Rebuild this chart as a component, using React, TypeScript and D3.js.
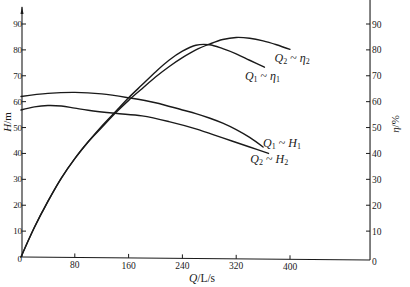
import React from "react";
import * as d3 from "d3";

const W = 410;
const H = 287;

const qTicks = [80, 160, 240, 320, 400];
const leftTicks = [0, 10, 20, 30, 40, 50, 60, 70, 80, 90];
const rightTicks = [0, 10, 20, 30, 40, 50, 60, 70, 80, 90];

const qH1 = [0, 40, 80, 120, 160, 200, 240, 260, 280, 300, 320, 340, 360];
const h1 = [62, 63.2, 63.6, 63, 61.5, 59.6, 56.8, 55.4, 53.7, 51.7, 49.2, 46.2, 42.5];

const qH2 = [0, 20, 40, 60, 80, 100, 140, 180, 220, 260, 300, 340, 368];
const h2 = [56.8, 58, 58.5, 58.3, 57.5, 56.7, 55.5, 54.5, 52.3, 49.5, 46, 42.5, 40];

const qE1 = [0, 20, 40, 60, 80, 100, 120, 140, 160, 180, 200, 220, 240, 260, 280, 300, 320, 340, 362];
const e1 = [0, 11.5, 21.5, 30.5, 38, 44.5, 50.5, 56, 61.5, 66.5, 71.5, 76, 79.5, 81.8, 82, 80.5, 78.5, 76, 73.3];

const qE2 = [0, 20, 40, 60, 80, 100, 120, 140, 160, 180, 200, 220, 240, 260, 280, 300, 320, 340, 360, 380, 400];
const e2 = [0, 11.5, 21.5, 30.5, 38, 44.5, 50, 55.5, 60.5, 65, 69.5, 73.5, 77, 80, 82.2, 84, 84.8, 84.5, 83.5, 82, 80.2];

// label anchors (Q, value) in data units
const labels = [
  { q: 377, v: 75.5, a: "Q", s1: "2", b: "η", s2: "2" },
  { q: 333, v: 68.5, a: "Q", s1: "1", b: "η", s2: "1" },
  { q: 360, v: 42.5, a: "Q", s1: "1", b: "H", s2: "1" },
  { q: 341, v: 36.3, a: "Q", s1: "2", b: "H", s2: "2" },
];

const x = d3.scaleLinear().domain([0, 400]).range([21, 290]);
const y = d3.scaleLinear().domain([0, 90]).range([257, 24]);
const qMax = 519;

const font = "'Liberation Serif', 'DejaVu Serif', serif";
const ink = "#1a1a1a";

function path(qs: number[], vs: number[]) {
  const line = d3
    .line<number>()
    .x((_, i) => x(qs[i]))
    .y((d) => y(d))
    .curve(d3.curveCatmullRom.alpha(0.5));
  return line(vs) || "";
}

export default function App() {
  const x0 = x(0) + 1;
  const xr = x(qMax);
  return (
    <svg
      width={W}
      height={H}
      style={{ position: "absolute", left: 0, top: 0, background: "#fff" }}
      fontFamily={font}
    >
      <rect width={W} height={H} fill="#fff" />
      {/* axes */}
      <line x1={x0} x2={x0} y1={y(0)} y2={7} stroke={ink} strokeWidth={1.1} />
      <path d={`M${x0 - 1.5},14 L${x0},6 L${x0 + 1.5},14 Z`} fill={ink} />
      <line x1={xr} x2={xr} y1={y(0) + 3} y2={0} stroke={ink} strokeWidth={1.1} />
      <line x1={x0} x2={xr} y1={y(0)} y2={y(0) + 3} stroke={ink} strokeWidth={1.1} />

      {leftTicks.map((t) => (
        <g key={"l" + t}>
          {t > 0 && (
            <line x1={x0} x2={x0 + 4} y1={y(t)} y2={y(t)} stroke={ink} strokeWidth={1} />
          )}
          <text
            x={x0 - 0.5}
            y={y(t) + 3 + (t === 0 ? 2 : 0)}
            fontSize={9}
            letterSpacing={-0.4}
            textAnchor="end"
            fill={ink}
          >
            {t}
          </text>
        </g>
      ))}

      {rightTicks.map((t) => (
        <g key={"r" + t}>
          {t > 0 && (
            <line x1={xr - 4} x2={xr} y1={y(t)} y2={y(t)} stroke={ink} strokeWidth={1} />
          )}
          <text
            x={xr + 2}
            y={y(t) + 3.5 + (t === 0 ? 4 : 0)}
            fontSize={9.5}
            textAnchor="start"
            fill={ink}
          >
            {t}
          </text>
        </g>
      ))}

      {qTicks.map((t) => (
        <g key={"q" + t}>
          <line
            x1={x(t)}
            x2={x(t)}
            y1={y(0) - 4 + (t / qMax) * 3}
            y2={y(0) + (t / qMax) * 3}
            stroke={ink}
            strokeWidth={1}
          />
          <text x={x(t)} y={y(0) + 11 + (t / qMax) * 2} fontSize={9.5} textAnchor="middle" fill={ink}>
            {t}
          </text>
        </g>
      ))}

      {/* axis titles */}
      <text
        transform={`translate(11,122) rotate(-90)`}
        fontSize={11}
        textAnchor="middle"
        fill={ink}
      >
        <tspan fontStyle="italic">H</tspan>/m
      </text>
      <text
        transform={`translate(399,124) rotate(-90)`}
        fontSize={11}
        textAnchor="middle"
        fill={ink}
      >
        <tspan fontStyle="italic">η</tspan>/%
      </text>
      <text x={202} y={282} fontSize={11.5} textAnchor="middle" fill={ink}>
        <tspan fontStyle="italic">Q</tspan>/L/s
      </text>

      {/* curves */}
      <g fill="none" stroke={ink} strokeWidth={1.4} strokeLinecap="round">
        <path d={path(qH1, h1)} />
        <path d={path(qH2, h2)} />
        <path d={path(qE1, e1)} />
        <path d={path(qE2, e2)} />
      </g>

      {/* curve labels */}
      {labels.map((l, i) => (
        <text key={i} x={x(l.q)} y={y(l.v)} fontSize={12} fill={ink}>
          <tspan fontStyle="italic">{l.a}</tspan>
          <tspan fontSize={8} dy={2}>{l.s1}</tspan>
          <tspan dy={-2}> ~ </tspan>
          <tspan fontStyle="italic">{l.b}</tspan>
          <tspan fontSize={8} dy={2}>{l.s2}</tspan>
        </text>
      ))}
    </svg>
  );
}
